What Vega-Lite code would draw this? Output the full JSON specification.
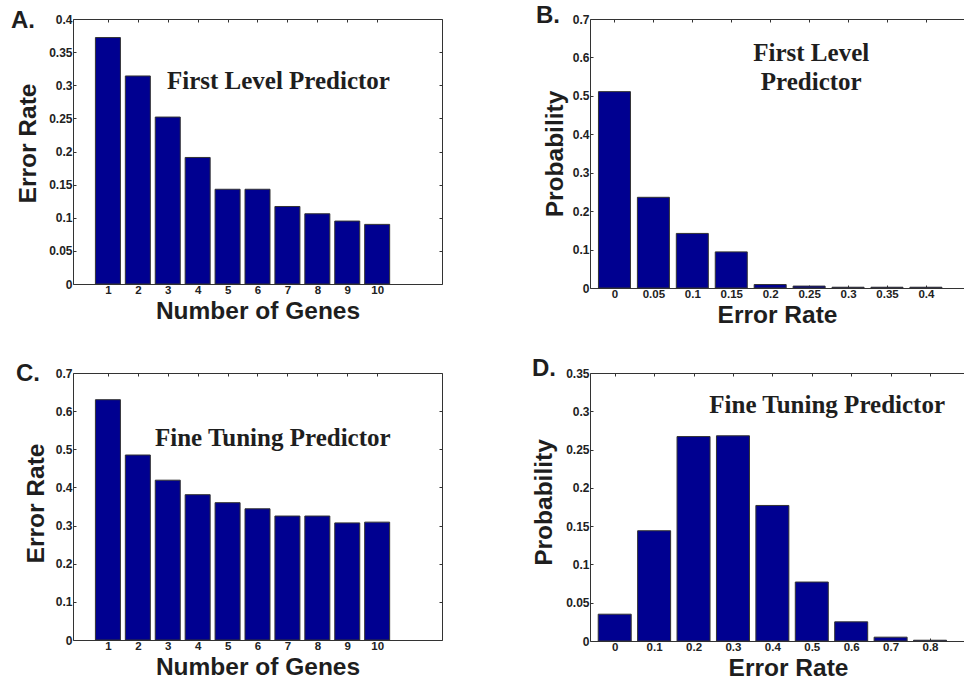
{
  "$schema": "https://vega.github.io/schema/vega-lite/v6.json",
  "padding": {"left": 11, "top": 4, "right": 0, "bottom": 0},
  "background": "white",
  "config": {
    "view": {"stroke": null},
    "font": "Liberation Sans",
    "axis": {
      "grid": false,
      "domainColor": "#333",
      "tickColor": "#333",
      "domainWidth": 1,
      "tickWidth": 1,
      "tickSize": -3,
      "labelPadding": 4,
      "labelFont": "Liberation Sans",
      "labelFontWeight": "bold",
      "labelFontSize": 12,
      "labelColor": "#222",
      "labelFlush": false,
      "labelOverlap": false,
      "labelBound": false,
      "titleFont": "Liberation Sans",
      "titleFontWeight": "bold",
      "titleFontSize": 24.5,
      "titleColor": "#1e1e1e"
    },
    "axisBottom": {"labelPadding": 3, "labelFontSize": 11.5, "titlePadding": 4},
    "title": {
      "font": "Liberation Sans",
      "fontWeight": "bold",
      "fontSize": 24,
      "color": "#1e1e1e",
      "anchor": "start",
      "frame": "group",
      "baseline": "alphabetic"
    }
  },
  "datasets": {
    "a": [
      {"genes": 1, "error_rate": 0.372},
      {"genes": 2, "error_rate": 0.314},
      {"genes": 3, "error_rate": 0.252},
      {"genes": 4, "error_rate": 0.191},
      {"genes": 5, "error_rate": 0.143},
      {"genes": 6, "error_rate": 0.143},
      {"genes": 7, "error_rate": 0.117},
      {"genes": 8, "error_rate": 0.106},
      {"genes": 9, "error_rate": 0.095},
      {"genes": 10, "error_rate": 0.090}
    ],
    "b": [
      {"error_rate": 0, "probability": 0.511},
      {"error_rate": 0.05, "probability": 0.236},
      {"error_rate": 0.1, "probability": 0.142},
      {"error_rate": 0.15, "probability": 0.094},
      {"error_rate": 0.2, "probability": 0.009},
      {"error_rate": 0.25, "probability": 0.005},
      {"error_rate": 0.3, "probability": 0.002},
      {"error_rate": 0.35, "probability": 0.002},
      {"error_rate": 0.4, "probability": 0.002}
    ],
    "c": [
      {"genes": 1, "error_rate": 0.630},
      {"genes": 2, "error_rate": 0.485},
      {"genes": 3, "error_rate": 0.419},
      {"genes": 4, "error_rate": 0.381},
      {"genes": 5, "error_rate": 0.360},
      {"genes": 6, "error_rate": 0.344},
      {"genes": 7, "error_rate": 0.325},
      {"genes": 8, "error_rate": 0.325},
      {"genes": 9, "error_rate": 0.307},
      {"genes": 10, "error_rate": 0.309}
    ],
    "d": [
      {"error_rate": 0, "probability": 0.035},
      {"error_rate": 0.1, "probability": 0.144},
      {"error_rate": 0.2, "probability": 0.267},
      {"error_rate": 0.3, "probability": 0.268},
      {"error_rate": 0.4, "probability": 0.177},
      {"error_rate": 0.5, "probability": 0.077},
      {"error_rate": 0.6, "probability": 0.025},
      {"error_rate": 0.7, "probability": 0.005},
      {"error_rate": 0.8, "probability": 0.001}
    ]
  },
  "columns": 2,
  "bounds": "flush",
  "align": "each",
  "spacing": {"row": 85, "column": 148},
  "concat": [
    {
      "width": 369,
      "height": 265,
      "title": {"text": "A.", "dx": -62, "offset": -20},
      "data": {"name": "a"},
      "layer": [
        {
          "mark": {"type": "bar", "orient": "vertical", "width": 25, "fill": "#000090", "stroke": "#333", "strokeWidth": 1},
          "encoding": {
            "x": {"field": "genes", "type": "quantitative", "scale": {"domain": [0, 12], "nice": false, "zero": false},
                  "axis": {"orient": "bottom", "values": [1, 2, 3, 4, 5, 6, 7, 8, 9, 10], "title": "Number of Genes"}},
            "y": {"field": "error_rate", "type": "quantitative", "scale": {"domain": [0, 0.4], "nice": false},
                  "axis": {"orient": "left", "values": [0, 0.05, 0.1, 0.15, 0.2, 0.25, 0.3, 0.35, 0.4], "format": "~g", "title": "Error Rate", "titlePadding": 8, "titleY": 124}}
          }
        },
        {
          "mark": {"type": "point", "opacity": 0},
          "encoding": {
            "x": {"field": "genes", "type": "quantitative", "scale": {"domain": [0, 12], "nice": false, "zero": false},
                  "axis": {"orient": "top", "values": [1, 2, 3, 4, 5, 6, 7, 8, 9, 10], "labels": false, "title": null}},
            "y": {"field": "error_rate", "type": "quantitative", "scale": {"domain": [0, 0.4], "nice": false},
                  "axis": {"orient": "right", "values": [0, 0.05, 0.1, 0.15, 0.2, 0.25, 0.3, 0.35, 0.4], "labels": false, "title": null}}
          }
        },
        {
          "data": {"values": [{}]},
          "mark": {"type": "text", "text": "First Level Predictor", "font": "Liberation Serif", "fontWeight": "bold", "fontSize": 25, "fill": "#1e1e1e", "align": "center", "baseline": "alphabetic"},
          "encoding": {
            "x": {"datum": 6.7, "type": "quantitative", "scale": {"domain": [0, 12], "nice": false, "zero": false}, "axis": null},
            "y": {"datum": 0.294, "type": "quantitative", "scale": {"domain": [0, 0.4], "nice": false}, "axis": null}
          }
        }
      ],
      "resolve": {"axis": {"x": "independent", "y": "independent"}}
    },
    {
      "width": 374,
      "height": 269,
      "title": {"text": "B.", "dx": -54, "offset": -15},
      "data": {"name": "b"},
      "layer": [
        {
          "mark": {"type": "bar", "orient": "vertical", "width": 32, "fill": "#000090", "stroke": "#333", "strokeWidth": 1},
          "encoding": {
            "x": {"field": "error_rate", "type": "quantitative", "scale": {"domain": [-0.025, 0.4425], "nice": false, "zero": false},
                  "axis": {"orient": "bottom", "values": [0, 0.05, 0.1, 0.15, 0.2, 0.25, 0.3, 0.35, 0.4], "format": "~g", "title": "Error Rate"}},
            "y": {"field": "probability", "type": "quantitative", "scale": {"domain": [0, 0.7], "nice": false},
                  "axis": {"orient": "left", "values": [0, 0.1, 0.2, 0.3, 0.4, 0.5, 0.6, 0.7], "format": "~g", "title": "Probability", "titlePadding": 5}}
          }
        },
        {
          "mark": {"type": "point", "opacity": 0},
          "encoding": {
            "x": {"field": "error_rate", "type": "quantitative", "scale": {"domain": [-0.025, 0.4425], "nice": false, "zero": false},
                  "axis": {"orient": "top", "values": [0, 0.05, 0.1, 0.15, 0.2, 0.25, 0.3, 0.35, 0.4], "labels": false, "title": null}},
            "y": {"field": "probability", "type": "quantitative", "scale": {"domain": [0, 0.7], "nice": false}, "axis": null}
          }
        },
        {
          "data": {"values": [{}]},
          "mark": {"type": "text", "text": ["First Level", "Predictor"], "lineHeight": 29, "font": "Liberation Serif", "fontWeight": "bold", "fontSize": 25, "fill": "#1e1e1e", "align": "center", "baseline": "alphabetic"},
          "encoding": {
            "x": {"datum": 0.2527, "type": "quantitative", "scale": {"domain": [-0.025, 0.4425], "nice": false, "zero": false}, "axis": null},
            "y": {"datum": 0.5916, "type": "quantitative", "scale": {"domain": [0, 0.7], "nice": false}, "axis": null}
          }
        }
      ],
      "resolve": {"axis": {"x": "independent", "y": "independent"}}
    },
    {
      "width": 369,
      "height": 267,
      "title": {"text": "C.", "dx": -57, "offset": -19},
      "data": {"name": "c"},
      "layer": [
        {
          "mark": {"type": "bar", "orient": "vertical", "width": 25, "fill": "#000090", "stroke": "#333", "strokeWidth": 1},
          "encoding": {
            "x": {"field": "genes", "type": "quantitative", "scale": {"domain": [0, 12], "nice": false, "zero": false},
                  "axis": {"orient": "bottom", "values": [1, 2, 3, 4, 5, 6, 7, 8, 9, 10], "title": "Number of Genes"}},
            "y": {"field": "error_rate", "type": "quantitative", "scale": {"domain": [0, 0.7], "nice": false},
                  "axis": {"orient": "left", "values": [0, 0.1, 0.2, 0.3, 0.4, 0.5, 0.6, 0.7], "format": "~g", "title": "Error Rate", "titlePadding": 7, "titleY": 130}}
          }
        },
        {
          "mark": {"type": "point", "opacity": 0},
          "encoding": {
            "x": {"field": "genes", "type": "quantitative", "scale": {"domain": [0, 12], "nice": false, "zero": false},
                  "axis": {"orient": "top", "values": [1, 2, 3, 4, 5, 6, 7, 8, 9, 10], "labels": false, "title": null}},
            "y": {"field": "error_rate", "type": "quantitative", "scale": {"domain": [0, 0.7], "nice": false},
                  "axis": {"orient": "right", "values": [0, 0.1, 0.2, 0.3, 0.4, 0.5, 0.6, 0.7], "labels": false, "title": null}}
          }
        },
        {
          "data": {"values": [{}]},
          "mark": {"type": "text", "text": "Fine Tuning Predictor", "font": "Liberation Serif", "fontWeight": "bold", "fontSize": 25, "fill": "#1e1e1e", "align": "center", "baseline": "alphabetic"},
          "encoding": {
            "x": {"datum": 6.51, "type": "quantitative", "scale": {"domain": [0, 12], "nice": false, "zero": false}, "axis": null},
            "y": {"datum": 0.5094, "type": "quantitative", "scale": {"domain": [0, 0.7], "nice": false}, "axis": null}
          }
        }
      ],
      "resolve": {"axis": {"x": "independent", "y": "independent"}}
    },
    {
      "width": 374,
      "height": 268,
      "title": {"text": "D.", "dx": -58, "offset": -14},
      "data": {"name": "d"},
      "layer": [
        {
          "mark": {"type": "bar", "orient": "vertical", "width": 33, "fill": "#000090", "stroke": "#333", "strokeWidth": 1},
          "encoding": {
            "x": {"field": "error_rate", "type": "quantitative", "scale": {"domain": [-0.05, 0.8735], "nice": false, "zero": false},
                  "axis": {"orient": "bottom", "values": [0, 0.1, 0.2, 0.3, 0.4, 0.5, 0.6, 0.7, 0.8], "format": "~g", "title": "Error Rate", "titleX": 198}},
            "y": {"field": "probability", "type": "quantitative", "scale": {"domain": [0, 0.35], "nice": false},
                  "axis": {"orient": "left", "values": [0, 0.05, 0.1, 0.15, 0.2, 0.25, 0.3, 0.35], "format": "~g", "title": "Probability", "titlePadding": 9, "titleY": 129}}
          }
        },
        {
          "mark": {"type": "point", "opacity": 0},
          "encoding": {
            "x": {"field": "error_rate", "type": "quantitative", "scale": {"domain": [-0.05, 0.8735], "nice": false, "zero": false},
                  "axis": {"orient": "top", "values": [0, 0.1, 0.2, 0.3, 0.4, 0.5, 0.6, 0.7, 0.8], "labels": false, "title": null}},
            "y": {"field": "probability", "type": "quantitative", "scale": {"domain": [0, 0.35], "nice": false}, "axis": null}
          }
        },
        {
          "data": {"values": [{}]},
          "mark": {"type": "text", "text": "Fine Tuning Predictor", "font": "Liberation Serif", "fontWeight": "bold", "fontSize": 25, "fill": "#1e1e1e", "align": "center", "baseline": "alphabetic"},
          "encoding": {
            "x": {"datum": 0.539, "type": "quantitative", "scale": {"domain": [-0.05, 0.8735], "nice": false, "zero": false}, "axis": null},
            "y": {"datum": 0.2978, "type": "quantitative", "scale": {"domain": [0, 0.35], "nice": false}, "axis": null}
          }
        }
      ],
      "resolve": {"axis": {"x": "independent", "y": "independent"}}
    }
  ]
}
